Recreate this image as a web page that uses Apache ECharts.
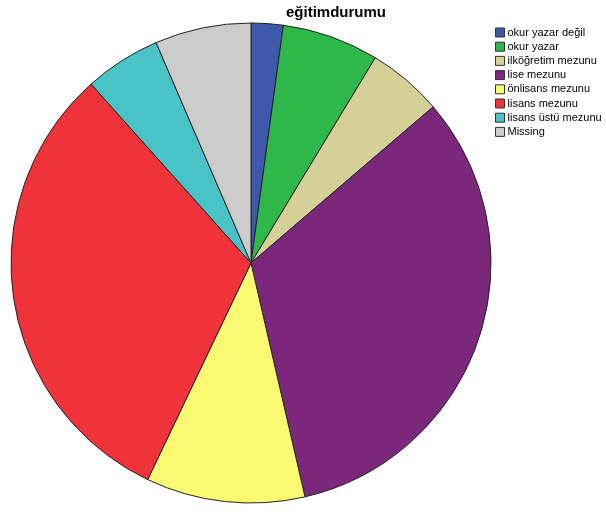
<!DOCTYPE html>
<html><head><meta charset="utf-8">
<script src="https://cdn.jsdelivr.net/npm/echarts@6/dist/echarts.min.js"></script>
<style>html,body{margin:0;padding:0;background:#fff}#c{width:606px;height:512px}</style>
</head><body><div id="c"></div>
<script>
const categories = ['okur yazar değil','okur yazar','ilköğretim mezunu','lise mezunu','önlisans mezunu','lisans mezunu','lisans üstü mezunu','Missing'];
const values = [7.75, 23.45, 18.2, 117.6, 38.5, 112.7, 18.5, 23.3];
const colors = ['#3e58ac','#2fb84a','#d5cf98','#7b287c','#fbf872','#f0323b','#4ac3c7','#cccccc'];
const chart = echarts.init(document.getElementById('c'));
chart.setOption({
  animation:false,
  title:{text:'eğitimdurumu',left:331,top:0,textAlign:'center',textStyle:{fontFamily:'Liberation Sans, Arial',fontSize:15,fontWeight:'bold',color:'#000'}},
  legend:{orient:'vertical',left:495,top:27,padding:0,itemWidth:9,itemHeight:9,itemGap:3.2,icon:'rect',
    textStyle:{fontFamily:'Liberation Sans, Arial',fontSize:11,lineHeight:11,color:'#000',padding:[0,0,0,-2]},
    itemStyle:{borderColor:'#333',borderWidth:1},
    data:categories},
  series:[{type:'pie',center:[251,263],radius:240,startAngle:90,clockwise:true,
    label:{show:false},labelLine:{show:false},emphasis:{disabled:true},
    itemStyle:{borderColor:'#222',borderWidth:1},
    data:categories.map((n,i)=>({name:n,value:values[i],itemStyle:{color:colors[i]}}))}]
});
</script></body></html>
